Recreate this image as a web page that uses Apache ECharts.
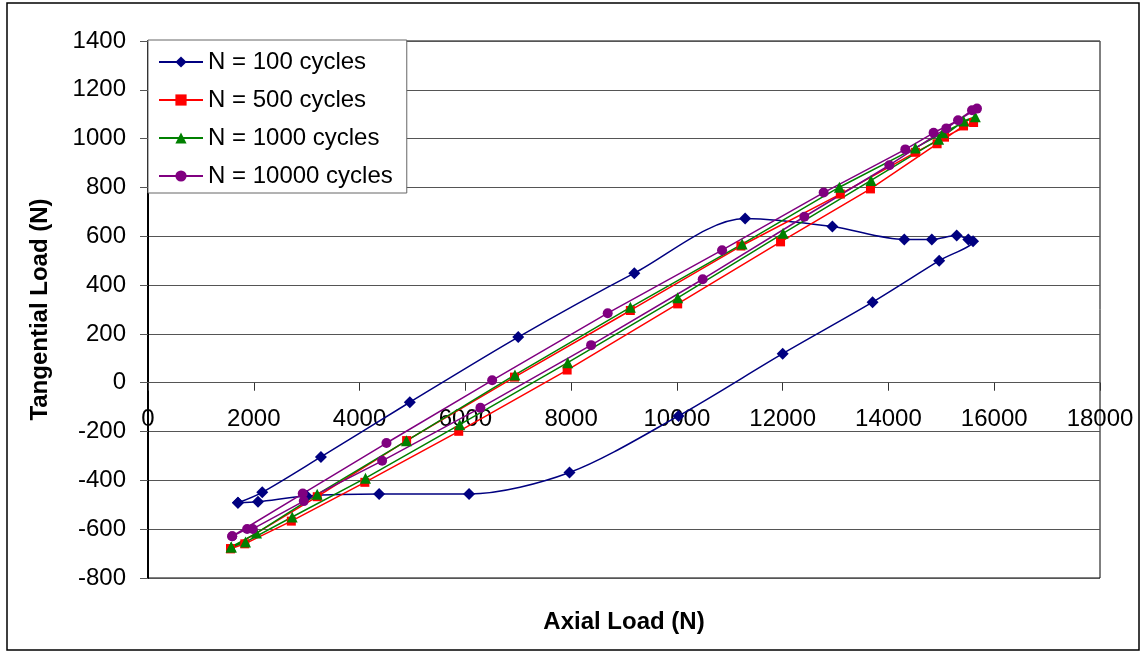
<!DOCTYPE html>
<html>
<head>
<meta charset="utf-8">
<script src="https://cdn.jsdelivr.net/npm/echarts@6/dist/echarts.min.js"></script>
<style>
html,body{margin:0;padding:0;background:#fff;}
#c{width:1143px;height:653px;}
</style>
</head>
<body>
<div id="c"></div>
<script>
// Series names
const seriesNames = ['N = 100 cycles', 'N = 500 cycles', 'N = 1000 cycles', 'N = 10000 cycles'];

// [axial load (N), tangential load (N)] in loop order
const n100 = [[1700,-492],[2160,-449],[3270,-304],[4950,-80],[7000,187],[9195,449],[11290,673],[12940,640],[14300,587],[14820,587],[15290,603],[15510,587],[15600,580],[14960,500],[13700,330],[12000,119],[10030,-136],[7970,-368],[6070,-456],[4370,-456],[3000,-464],[2080,-488],[1700,-492]];
const n500 = [[1560,-680],[3200,-467],[4890,-237],[6930,23],[9120,296],[11210,560],[13090,773],[14510,944],[15060,1006],[15610,1066],[15420,1052],[14920,979],[13660,794],[11960,577],[10015,323],[7925,52],[5875,-199],[4100,-408],[2710,-567],[1830,-660],[1560,-680]];
const n1000 = [[1573,-673],[2051,-616],[3199,-457],[4887,-238],[6938,32],[9121,309],[11233,568],[13072,801],[14509,962],[15032,1024],[15643,1090],[15422,1072],[14949,997],[13671,829],[12008,612],[10015,348],[7936,82],[5894,-172],[4112,-391],[2726,-550],[1843,-653],[1573,-673]];
const n10000 = [[1592,-629],[2926,-454],[4509,-247],[6507,10],[8692,285],[10854,543],[12775,779],[14319,956],[14854,1024],[15316,1075],[15674,1123],[15580,1116],[15094,1042],[14017,891],[12410,680],[10488,424],[8378,154],[6285,-103],[4427,-320],[2945,-485],[1981,-599],[1875,-599],[1592,-629]];

// Axis settings
const xMin = 0, xMax = 18000, xStep = 2000;
const yMin = -800, yMax = 1400, yStep = 200;
const xTitle = 'Axial Load (N)';
const yTitle = 'Tangential Load (N)';

const FONT = '"Liberation Sans", Arial, sans-serif';
const W = 1143, H = 653;
const gridTop = 41, gridBottom = 75;
const gridHeight = H - gridTop - gridBottom;
// move the x axis up to where y = 0 (axis crosses at zero)
const xAxisOffset = -gridHeight * (0 - yMin) / (yMax - yMin);

const chart = echarts.init(document.getElementById('c'), null, {renderer: 'canvas'});

function mkSeries(name, data, color, symbol, size, smooth) {
  return {
    name: name, type: 'line', data: data, smooth: smooth,
    symbol: symbol, symbolSize: size, showSymbol: true,
    lineStyle: {color: color, width: 1.5},
    itemStyle: {color: color},
    emphasis: {disabled: true}
  };
}
const plain = function (v) { return String(v); };

chart.setOption({
  animation: false,
  backgroundColor: '#fff',
  textStyle: {fontFamily: FONT},
  grid: {left: 148, right: 43, top: gridTop, bottom: gridBottom, show: true, borderColor: '#000', borderWidth: 1, containLabel: false},
  legend: {
    data: seriesNames,
    orient: 'vertical',
    left: 148, top: 40,
    padding: [10, 14, 5, 10],
    itemWidth: 44, itemHeight: 14, itemGap: 14,
    backgroundColor: '#fff',
    borderColor: '#666', borderWidth: 1,
    selectedMode: false,
    textStyle: {fontSize: 24, color: '#000', fontFamily: FONT, lineHeight: 24}
  },
  xAxis: {
    type: 'value', min: xMin, max: xMax, interval: xStep,
    position: 'bottom', offset: xAxisOffset,
    axisLine: {show: true, onZero: false, lineStyle: {color: '#555', width: 1}},
    axisTick: {show: true, length: 8, lineStyle: {color: '#333'}},
    axisLabel: {fontSize: 24, color: '#000', margin: 25, fontFamily: FONT, showMinLabel: true, showMaxLabel: true, formatter: plain},
    splitLine: {show: false}
  },
  yAxis: {
    type: 'value', min: yMin, max: yMax, interval: yStep,
    name: yTitle, nameLocation: 'middle', nameGap: 96, nameRotate: 90,
    nameTextStyle: {fontSize: 24, fontWeight: 'bold', color: '#000', fontFamily: FONT},
    axisLine: {show: true, onZero: false, lineStyle: {color: '#000', width: 2}},
    axisTick: {show: true, length: 8, lineStyle: {color: '#555'}},
    axisLabel: {fontSize: 24, color: '#000', margin: 22, fontFamily: FONT, formatter: plain},
    splitLine: {show: true, lineStyle: {color: '#555', width: 1}}
  },
  graphic: [
    {type: 'rect', shape: {x: 7, y: 3, width: 1132, height: 647}, style: {fill: null, stroke: '#000', lineWidth: 1.5}, silent: true, z: -1},
    {type: 'text', x: 624, y: 622, style: {text: xTitle, fontSize: 24, fontWeight: 'bold', fontFamily: FONT, fill: '#000', align: 'center', verticalAlign: 'middle'}}
  ],
  series: [
    mkSeries(seriesNames[0], n100, '#000080', 'diamond', 12, 0.3),
    mkSeries(seriesNames[1], n500, '#FF0000', 'rect', 9, false),
    mkSeries(seriesNames[2], n1000, '#008000', 'triangle', 11, false),
    mkSeries(seriesNames[3], n10000, '#800080', 'circle', 10, false)
  ]
});
</script>
</body>
</html>
